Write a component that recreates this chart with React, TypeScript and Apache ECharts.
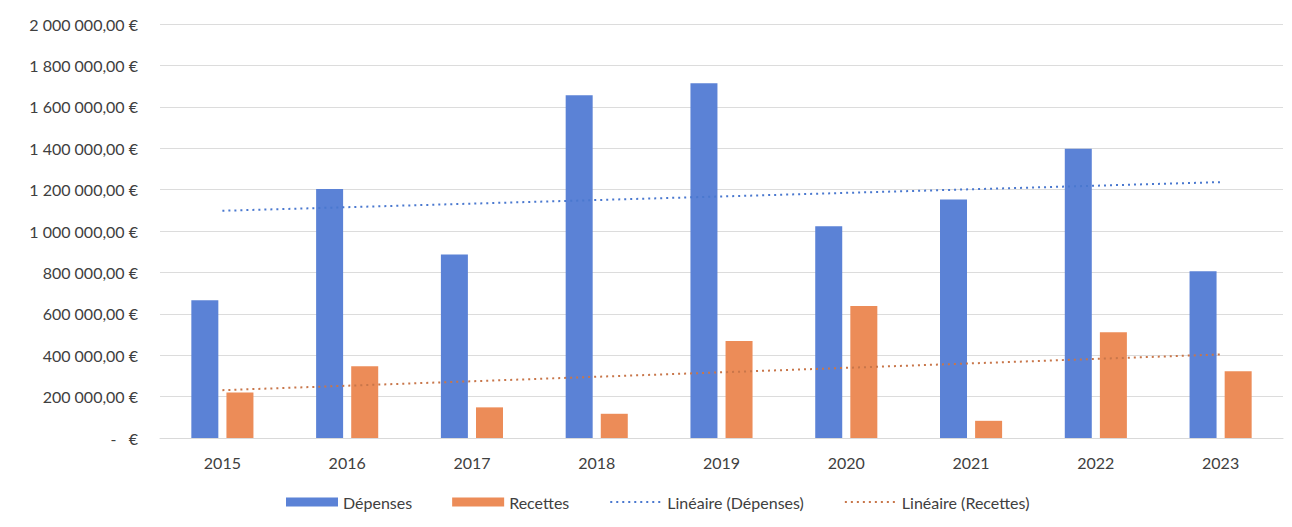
import React, { useEffect, useRef } from "react";
import * as echarts from "echarts";

const years = ["2015", "2016", "2017", "2018", "2019", "2020", "2021", "2022", "2023"];
const depenses = [665000, 1203000, 887000, 1656000, 1714000, 1023000, 1152000, 1397000, 805000];
const recettes = [220000, 347000, 148000, 117000, 469000, 638000, 83000, 511000, 323000];

const BLUE = "#5b82d6";
const ORANGE = "#ec8c58";
const FONT = "Lato, 'Open Sans', sans-serif";

// Excel-style linear trendline (least squares) derived from the data
function linearTrend(values: number[]): number[] {
  const n = values.length;
  const xs = values.map((_, i) => i + 1);
  const mx = xs.reduce((a, b) => a + b, 0) / n;
  const my = values.reduce((a, b) => a + b, 0) / n;
  let sxy = 0;
  let sxx = 0;
  for (let i = 0; i < n; i++) {
    sxy += (xs[i] - mx) * (values[i] - my);
    sxx += (xs[i] - mx) * (xs[i] - mx);
  }
  const slope = sxy / sxx;
  const b = my - slope * mx;
  return xs.map((x) => slope * x + b);
}

function formatEuro(v: number): string {
  if (v === 0) return "-   €";
  const int = Math.round(v).toString().replace(/\B(?=(\d{3})+(?!\d))/g, " ");
  return int + ",00 €";
}

export default function App() {
  const ref = useRef<HTMLDivElement>(null);
  useEffect(() => {
    if (!ref.current) return;
    const chart = echarts.init(ref.current, undefined, { renderer: "svg" });
    chart.setOption({
      animation: false,
      backgroundColor: "#ffffff",
      textStyle: { fontFamily: FONT },
      grid: { left: 160, right: 9, top: 24, bottom: 89, containLabel: false },
      legend: {
        top: 489,
        left: 281,
        itemWidth: 52,
        itemHeight: 9,
        itemGap: 40,
        textStyle: { fontFamily: FONT, fontSize: 16, color: "#404040" },
        data: [
          { name: "Dépenses", icon: "rect" },
          { name: "Recettes", icon: "rect" },
          { name: "Linéaire (Dépenses)", itemStyle: { opacity: 0 } },
          { name: "Linéaire (Recettes)", itemStyle: { opacity: 0 } },
        ],
      },
      xAxis: {
        type: "category",
        data: years,
        axisLine: { lineStyle: { color: "#d9d9d9" } },
        axisTick: { show: false },
        axisLabel: { color: "#404040", fontSize: 16, margin: 16, fontFamily: FONT },
      },
      yAxis: {
        type: "value",
        min: 0,
        max: 2000000,
        interval: 200000,
        axisLine: { show: false },
        axisTick: { show: false },
        splitLine: { lineStyle: { color: "#dcdcdc", width: 1 } },
        axisLabel: {
          color: "#404040",
          fontSize: 16,
          margin: 22,
          fontFamily: FONT,
          formatter: (v: number) => formatEuro(v),
        },
      },
      series: [
        {
          name: "Dépenses",
          type: "bar",
          data: depenses,
          barWidth: 27,
          barGap: "30%",
          itemStyle: { color: BLUE },
        },
        {
          name: "Recettes",
          type: "bar",
          data: recettes,
          barWidth: 27,
          itemStyle: { color: ORANGE },
        },
        {
          name: "Linéaire (Dépenses)",
          type: "line",
          data: linearTrend(depenses),
          symbol: "none",
          z: 5,
          lineStyle: { color: "#4a78cf", width: 2, type: [2, 4] },
          itemStyle: { color: "#4a78cf" },
        },
        {
          name: "Linéaire (Recettes)",
          type: "line",
          data: linearTrend(recettes),
          symbol: "none",
          z: 5,
          lineStyle: { color: "#c8764a", width: 2, type: [2, 4] },
          itemStyle: { color: "#c8764a" },
        },
      ],
    });
    return () => chart.dispose();
  }, []);
  return (
    <div
      ref={ref}
      style={{ position: "absolute", left: 0, top: 0, width: 1292, height: 527 }}
    />
  );
}
